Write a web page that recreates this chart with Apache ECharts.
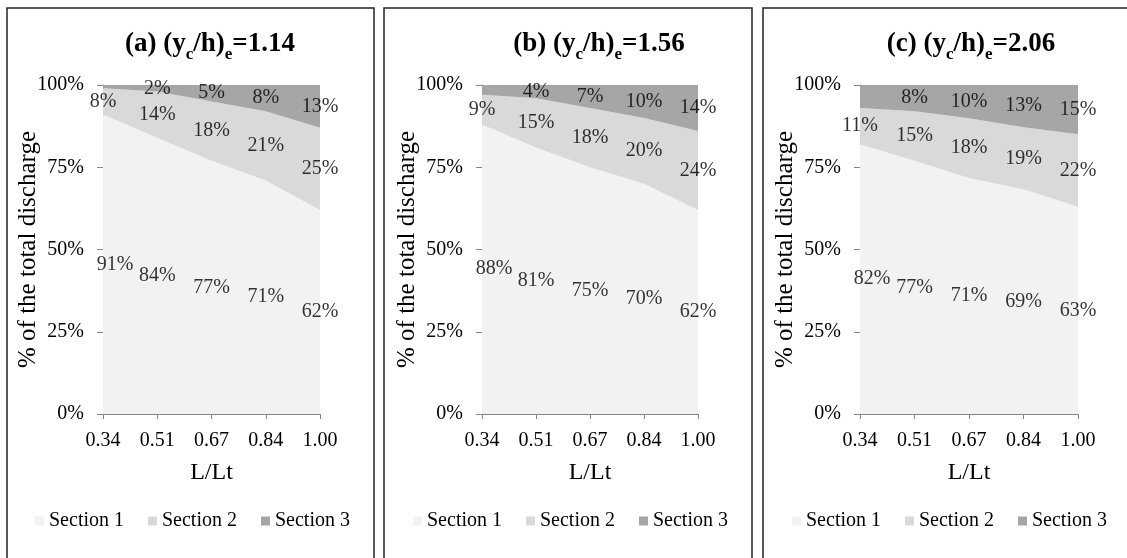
<!DOCTYPE html>
<html><head><meta charset="utf-8">
<script src="https://cdn.jsdelivr.net/npm/echarts@6/dist/echarts.min.js"></script>
<style>html,body{margin:0;padding:0;background:#fff}#c{width:1127px;height:558px}</style>
</head><body><div id="c"></div>
<script>
const categories = ['0.34', '0.51', '0.67', '0.84', '1.00'];
const seriesNames = ['Section 1', 'Section 2', 'Section 3'];
const panelLetters = ['a', 'b', 'c'];
const panelRatios = ['1.14', '1.56', '2.06'];
const a_section1 = [91, 84, 77, 71, 62];
const a_section2 = [8, 14, 18, 21, 25];
const a_section3 = [1, 2, 5, 8, 13];
const b_section1 = [88, 81, 75, 70, 62];
const b_section2 = [9, 15, 18, 20, 24];
const b_section3 = [3, 4, 7, 10, 14];
const c_section1 = [82, 77, 71, 69, 63];
const c_section2 = [11, 15, 18, 19, 22];
const c_section3 = [7, 8, 10, 13, 15];

const panels = [
  [a_section1, a_section2, a_section3],
  [b_section1, b_section2, b_section3],
  [c_section1, c_section2, c_section3]
];
const colors = ['#f2f2f2', '#d9d9d9', '#a6a6a6'];
const FONT = "'Liberation Serif','Times New Roman',serif";
const gridBoxes = [
  {left: 103, top: 85, width: 217, height: 329},
  {left: 482, top: 85, width: 216, height: 329},
  {left: 860, top: 85, width: 218, height: 329}
];
const frames = [[7, 374], [384, 752], [763, 1140]];
const titleCenters = [210, 599, 971];
const legendLefts = [30, 408, 787];
const axisColor = '#868686';

const grid = [], xAxis = [], yAxis = [], series = [], legend = [], graphic = [];
panels.forEach((secs, p) => {
  grid.push(Object.assign({containLabel: false}, gridBoxes[p]));
  xAxis.push({
    type: 'category', gridIndex: p, data: categories, boundaryGap: false,
    name: 'L/Lt', nameLocation: 'middle', nameGap: 47, nameMoveOverlap: false,
    nameTextStyle: {fontSize: 24, fontFamily: FONT, color: '#000'},
    axisLine: {lineStyle: {color: axisColor, width: 1}},
    axisTick: {show: true, length: 5, lineStyle: {color: axisColor}},
    axisLabel: {fontSize: 20, fontFamily: FONT, color: '#000', margin: 17},
    splitLine: {show: false}
  });
  yAxis.push({
    type: 'value', gridIndex: p, min: 0, max: 100, interval: 25,
    name: '% of the total discharge', nameLocation: 'middle', nameGap: 62, nameMoveOverlap: false,
    nameTextStyle: {fontSize: 25, fontFamily: FONT, color: '#000'},
    axisLine: {show: true, lineStyle: {color: axisColor, width: 1}},
    axisTick: {show: true, length: 6, lineStyle: {color: axisColor}},
    axisLabel: {fontSize: 20, fontFamily: FONT, color: '#000', margin: 19, formatter: '{value}%'},
    splitLine: {show: false}
  });
  // 100% stacked: normalise each category's total to 100
  const totals = categories.map((_, i) => secs.reduce((acc, arr) => acc + arr[i], 0));
  const cum = categories.map(() => 0);
  secs.forEach((vals, s) => {
    const norm = vals.map((v, i) => v / totals[i] * 100);
    series.push({
      type: 'line', name: seriesNames[s], xAxisIndex: p, yAxisIndex: p,
      stack: 'panel' + p, data: norm, symbol: 'none', silent: true,
      lineStyle: {width: 0}, itemStyle: {color: colors[s]},
      areaStyle: {color: colors[s], opacity: 1}
    });
    const labelData = vals.map((v, i) => ({
      value: [i, cum[i] + norm[i] / 2],
      label: {show: !(s === 2 && i === 0), offset: (s === 0 && i === 0) ? [12, 0] : [0, 0]},
      pct: v
    }));
    series.push({
      type: 'scatter', xAxisIndex: p, yAxisIndex: p, symbolSize: 0, silent: true, z: 5,
      data: labelData,
      label: {show: true, position: 'inside', color: '#000', fontSize: 20, fontFamily: FONT,
        formatter: (d) => d.data.pct + '%'}
    });
    norm.forEach((v, i) => { cum[i] += v; });
  });
  legend.push({
    data: seriesNames, left: legendLefts[p], top: 506, icon: 'rect',
    itemWidth: 9, itemHeight: 9, itemGap: 24, selectedMode: false,
    textStyle: {fontSize: 20, fontFamily: FONT, color: '#000'}
  });
  graphic.push({
    type: 'rect', shape: {x: frames[p][0], y: 8, width: frames[p][1] - frames[p][0], height: 600},
    style: {fill: 'none', stroke: '#222', lineWidth: 1.5}, silent: true
  });
  graphic.push({
    type: 'text', x: titleCenters[p], y: 47, silent: true,
    style: {
      text: '{b|(' + panelLetters[p] + ') (y}{s|c}{b|/h)}{s|e}{b|=' + panelRatios[p] + '}',
      align: 'center', verticalAlign: 'middle', fill: '#000',
      rich: {
        b: {fontSize: 27, fontWeight: 'bold', fontFamily: FONT, fill: '#000', verticalAlign: 'top', padding: [0, 0, 5, 0]},
        s: {fontSize: 17, fontWeight: 'bold', fontFamily: FONT, fill: '#000', verticalAlign: 'bottom'}
      }
    }
  });
});

const chart = echarts.init(document.getElementById('c'), null, {renderer: 'canvas'});
chart.setOption({animation: false, backgroundColor: '#fff', grid, xAxis, yAxis, series, legend, graphic});
</script>
</body></html>
